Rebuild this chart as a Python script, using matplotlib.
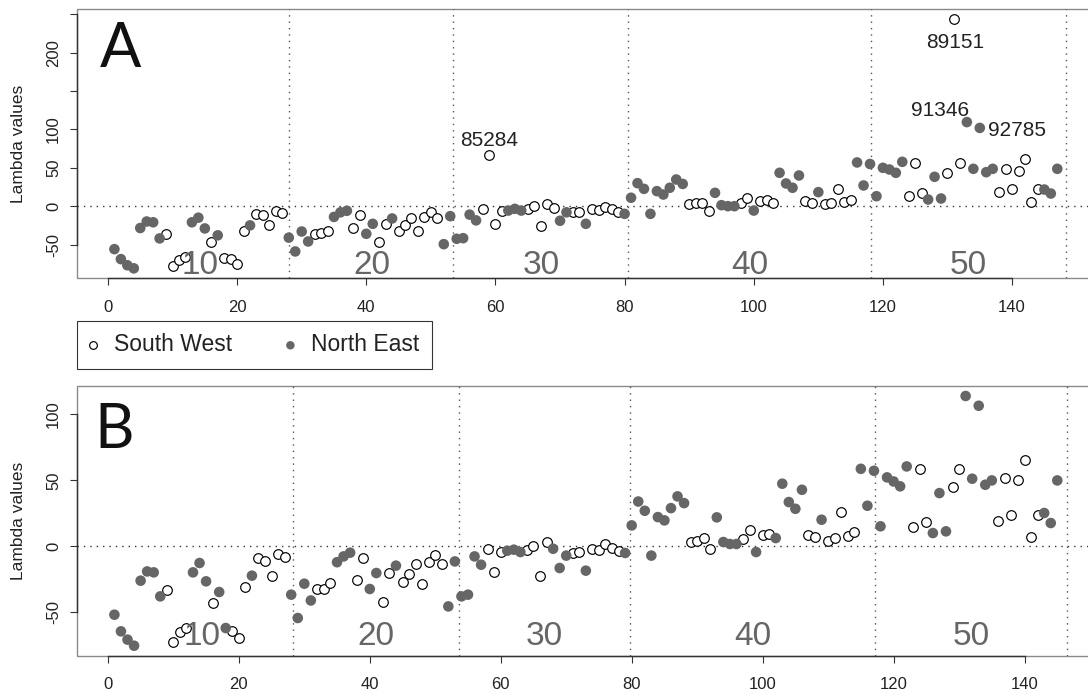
import matplotlib
matplotlib.use("Agg")
import matplotlib.pyplot as plt
from matplotlib.patches import Rectangle
import numpy as np

plt.rcParams['font.family'] = ['Liberation Sans', 'DejaVu Sans']

# lambda values per site (site index 1..n)
lambda_a = [-56, -69, -77, -81, -28.5, -20, -21, -42, -36, -78,
            -70, -66, -21, -15, -29, -47, -38, -67, -69, -75,
            -33, -25, -10, -12, -25, -6, -9, -41, -59, -33,
            -46, -36, -35, -32, -14, -8, -6, -28.5, -11, -36,
            -23, -47, -23, -16, -32, -25, -15, -32, -14.5, -7.5,
            -15, -49.5, -13, -42.5, -41.7, -11, -18.5, -3.5, 66.7, -23,
            -5.7, -5.7, -3.5, -5.7, -3.5, -0.4, -26, 3, -3, -19,
            -8, -7.5, -7.5, -23, -3.5, -4.4, -1, -3.5, -7.5, -10,
            11, 30, 22.6, -10, 19.6, 15.2, 24, 34.8, 29, 3,
            4.3, 4.3, -5.7, 17.4, 1.3, 0, 0, 4.3, 10.9, -5.7,
            6.5, 8.7, 4.3, 43.5, 29.6, 24, 40, 6.5, 4.3, 18.3,
            2.2, 4.3, 22.6, 5.2, 8.7, 57, 27, 55, 13, 50,
            47.8, 43.5, 57.8, 13, 55.7, 17.4, 8.7, 38.3, 10, 43.5,
            244, 55.7, 109.6, 48.7, 102, 44.3, 48.7, 18.3, 48.7, 22.6,
            45.6, 61.7, 5.7, 22.6, 21.7, 16.5, 48.7]
# S = South West, N = North East
region_a = ("NNNNNNNNSS" "SSNNNSNSSS" "SNSSSSSNNN" "NSSSNNNSSN" "NSSNSSSSSS"
            "SNNNNNNSSS" "SNNNSSSSSN" "NSSNSSSSSN" "NNNNNNNNNS" "SSSNNNNSSN"
            "SSSNNNNSSN" "SSSSSNNNNN" "NNNSSSNNNS" "SSNNNNNSSS" "SSSSNNN")
outliers_a = {59: '85284', 131: '89151', 133: '91346', 135: '92785'}

lambda_b = [-51.8, -64.4, -70.7, -75.3, -26, -19, -19.7, -37.9, -32.8, -72.5,
            -65, -62, -19.7, -12.6, -26.5, -43, -34.6, -61.9, -63.9, -69.4,
            -30.8, -22.2, -8.8, -10.9, -22.2, -5.6, -8, -36.6, -54.3, -28.3,
            -41, -32, -32.3, -27.8, -12, -7.6, -4.8, -25.3, -8.8, -32.3,
            -20.2, -42.2, -20.2, -14.6, -27.3, -21, -13.1, -28.5, -11.9, -6.3,
            -13.1, -45.5, -11.4, -37.9, -36.6, -7.6, -13.9, -1.8, -19.4, -4.3,
            -3.3, -2.5, -4.3, -2.5, 0.5, -22.7, 3.3, -1.8, -16.4, -7,
            -5, -4.5, -18.4, -2, -2.5, 1.8, -1.3, -3.8, -5, 15.9,
            34, 27, -7, 22.2, 19.7, 29, 37.9, 32.8, 3, 4.3,
            6.3, -2, 22, 3.3, 1.8, 1.8, 5.6, 12.6, -4.3, 8.3,
            9.3, 6.3, 47.5, 33.6, 28.5, 42.9, 8.3, 6.8, 20.2, 4.3,
            6.3, 25.8, 7.6, 10.9, 58.8, 30.8, 57.3, 15.2, 52.3, 49.2,
            45.5, 60.6, 14.4, 58.8, 18.4, 10.1, 40.4, 11.4, 45, 58.8,
            114, 51.3, 106.6, 46.7, 50, 19.4, 51.8, 24, 50.5, 65.2,
            7.1, 24, 25.3, 17.7, 50]
region_b = ("NNNNNNNNSS" "SSNNNSNNSS" "SNSSSSSNNN" "NSSSNNNSSN" "NSSNSSSSSS"
            "SNNNNNNSSS" "NNNSSSSNNN" "SSNSSSSSNN" "NNNNNNNNSS" "SSNNNNSSNS"
            "SNNNNNSSNS" "SSSSNNNNNN" "NNSSSNNNSS" "NNNNNSSSSS" "SSNNN")

group_names = ['10', '20', '30', '40', '50']
bounds_a = [28.1, 53.5, 80.6, 118.2, 148.3]
bounds_b = [28.3, 53.6, 79.8, 117.1, 146.5]

fill = '#666666'
W, H = 1088, 698
fig = plt.figure(figsize=(W / 100, H / 100), dpi=100)
fig.patch.set_facecolor('white')

axA = fig.add_axes([76.7 / W, 1 - 278.3 / H, 1018.3 / W, 269.3 / H])
axB = fig.add_axes([76.7 / W, 1 - 655.7 / H, 1018.3 / W, 269.7 / H])


def draw_panel(ax, vals, regions, bounds, yticks, ylabels, letter, letter_xy, group_y):
    vals = np.asarray(vals, dtype=float)
    n = len(vals)
    idx = np.arange(1, n + 1)
    sw = np.array(list(regions)) == 'S'
    h_sw = ax.scatter(idx[sw], vals[sw], s=48, facecolor='white', edgecolor='black',
                      linewidth=0.85, zorder=3, label='South West')
    h_ne = ax.scatter(idx[~sw], vals[~sw], s=58, facecolor=fill, edgecolor='none',
                      zorder=3, label='North East')
    xr = n - 1
    yr = vals.max() - vals.min()
    ax.set_xlim(1 - 0.04 * xr, n + 0.04 * xr)
    ax.set_ylim(vals.min() - 0.04 * yr, vals.max() + 0.04 * yr)

    dots = (0, (1, 3.6))
    ax.axhline(0, color='#333333', lw=1, ls=dots, zorder=1)
    for b in bounds:
        ax.axvline(b, color='#555555', lw=1, ls=dots, zorder=1)
    edges = [0.5] + list(bounds)
    for k, name in enumerate(group_names):
        ax.text((edges[k] + edges[k + 1]) / 2, group_y, name, ha='center', va='baseline',
                fontsize=24, color='#666666', zorder=4)

    ax.text(letter_xy[0], letter_xy[1], letter, transform=ax.transAxes, fontsize=44,
            family=['Lato', 'Liberation Sans'], weight='normal', color='#111111',
            va='baseline', ha='left')

    # frame: light box, darker axis lines over the tick range
    ax.add_patch(Rectangle((0, 0), 1, 1, transform=ax.transAxes, fill=False,
                           edgecolor='#8a8a8a', lw=1, zorder=0.5, clip_on=False))
    for s in ['top', 'right']:
        ax.spines[s].set_visible(False)
    ax.spines['bottom'].set_bounds(0, 140)
    ax.spines['left'].set_bounds(yticks[0], yticks[-1])
    for s in ['bottom', 'left']:
        ax.spines[s].set_color('#333333')
        ax.spines[s].set_linewidth(1)

    ax.set_xticks(range(0, 141, 20))
    ax.set_yticks(yticks)
    ax.set_yticklabels(ylabels, rotation=90, va='center')
    ax.tick_params(direction='out', length=4.8, width=0.8, color='#333333',
                   labelsize=12, labelcolor='#222222')
    ax.tick_params(axis='x', pad=10.5)
    ax.tick_params(axis='y', pad=6.5)
    ax.set_ylabel('Lambda values', fontsize=12.5, color='#222222')
    ax.yaxis.set_label_coords(-0.05, 0.5)
    return h_sw, h_ne


h_sw, h_ne = draw_panel(axA, lambda_a, region_a, bounds_a,
                        [-50, 0, 50, 100, 150, 200, 250],
                        ['-50', '0', '50', '100', '', '200', ''],
                        'A', (0.0225, 0.785), -89)
draw_panel(axB, lambda_b, region_b, bounds_b,
           [-50, 0, 50, 100], ['-50', '0', '50', '100'],
           'B', (0.017, 0.77), -74.4)

# labelled outliers in panel A
label_style = {59: (0, 6.5, 'center'), 131: (1.2, -20.9, 'center'),
               133: (1.7, 4.3, 'right'), 135: (6, -5.5, 'left')}
for site, name in outliers_a.items():
    dx, dy, ha = label_style[site]
    axA.annotate(name, (site, lambda_a[site - 1]), xytext=(dx, dy), textcoords='offset points',
                 ha=ha, va='baseline', fontsize=15, color='#222222', zorder=5)

leg = fig.legend(handles=[h_sw, h_ne], labels=['South West', 'North East'], ncol=2,
                 loc='upper left', bbox_to_anchor=(76.7 / W, 1 - 320.7 / H), borderaxespad=0,
                 frameon=True, fancybox=False, edgecolor='black', fontsize=16.5,
                 borderpad=0.55, handlelength=0.3, handletextpad=0.77, columnspacing=2.4,
                 markerscale=0.8)
leg.get_frame().set_linewidth(0.8)
for t in leg.get_texts():
    t.set_color('#222222')

fig.savefig('out.png', dpi=100, facecolor='white')
